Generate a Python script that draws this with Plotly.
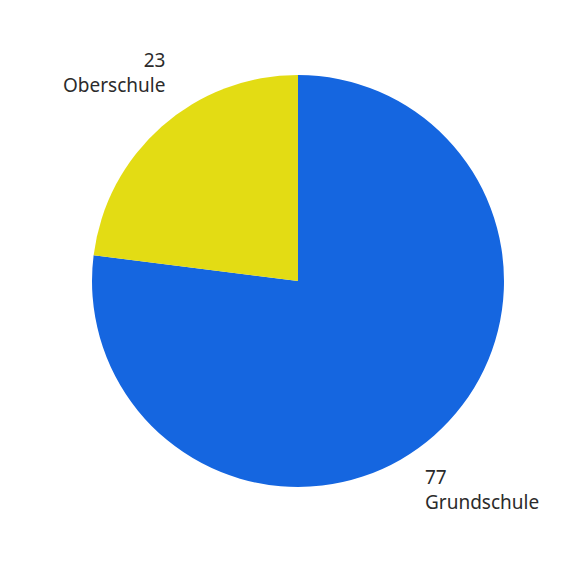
import math
import plotly.graph_objects as go

labels = ["Grundschule", "Oberschule"]
values = [77, 23]
colors = ["#1566E0", "#E3DC14"]

fig = go.Figure(go.Pie(
    labels=labels,
    values=values,
    sort=False,
    direction="clockwise",
    rotation=0,
    marker=dict(colors=colors, line=dict(width=0)),
    textinfo="none",
    showlegend=False,
    hoverinfo="label+value",
    domain=dict(x=[0, 1], y=[0, 1]),
))

# Outside labels placed on each slice's mid-angle ray
total = sum(values)
label_dist = 1.35
cum = 0.0
annotations = []
for lab, val in zip(labels, values):
    mid = (cum + val / 2) / total * 2 * math.pi  # clockwise from 12 o'clock
    cum += val
    sx, sy = math.sin(mid), math.cos(mid)
    annotations.append(dict(
        x=0.5 + 0.5 * label_dist * sx,
        y=0.5 + 0.5 * label_dist * sy,
        xref="paper", yref="paper",
        xanchor="center", yanchor="middle",
        align="left" if sx > 0 else "right",
        text=f"{val}<br>{lab}",
        showarrow=False,
        font=dict(family="Noto Sans", size=19, color="#2b2b2b"),
    ))

fig.update_layout(
    width=575, height=587,
    margin=dict(l=84, r=79, t=67, b=108),
    paper_bgcolor="white",
    plot_bgcolor="white",
    annotations=annotations,
)

fig.write_html("out.html")
